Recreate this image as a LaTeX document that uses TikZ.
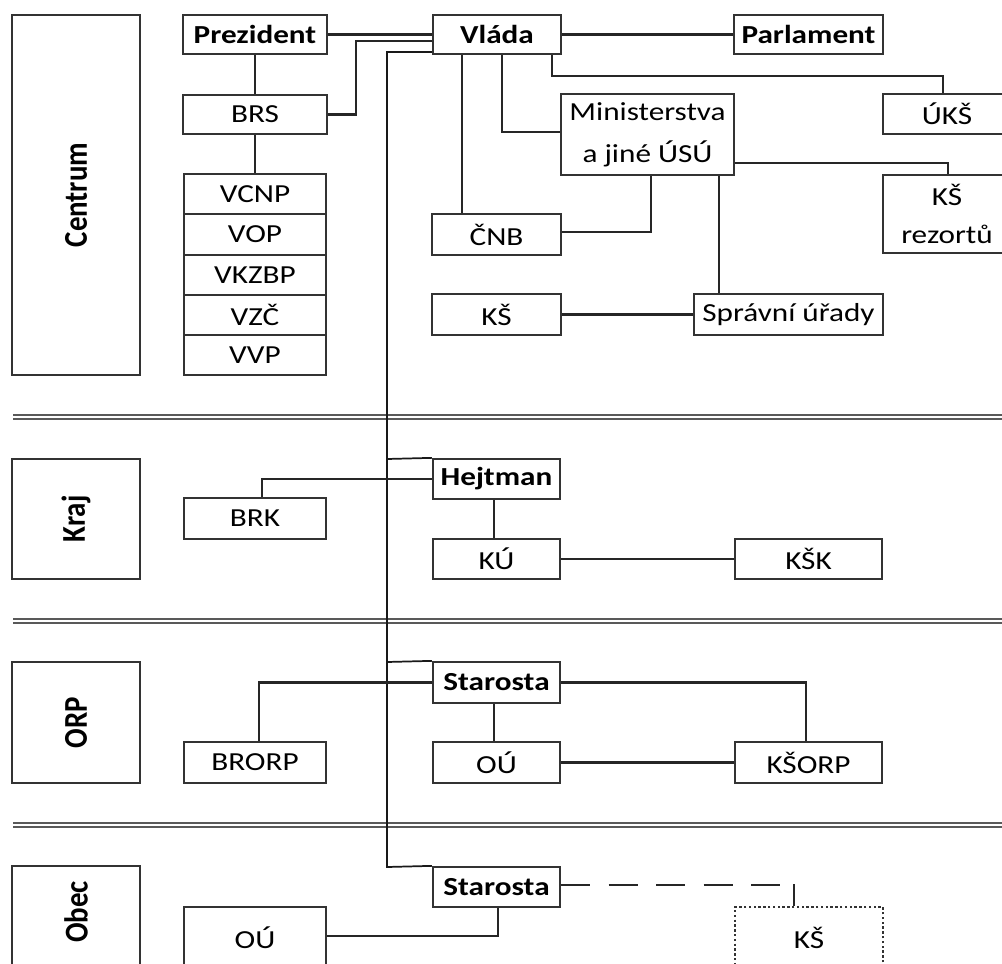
\documentclass[tikz,border=0pt]{standalone}
\usepackage{fontspec}
\setmainfont{Carlito}[FakeStretch=1.2]
\newfontfamily\labfont{Carlito}
\tikzset{
  box/.style={draw=black!80, line width=1.7pt, inner sep=0pt, align=center,
    font=\fontsize{19.5}{29}\selectfont},
  bbox/.style={box, font=\fontsize{19.5}{29}\selectfont\bfseries},
  dbox/.style={box, dash pattern=on 1.8pt off 1.8pt, line width=1.6pt},
  lbox/.style={draw=black!80, line width=1.7pt, inner sep=0pt},
  labtext/.style={rotate=90, inner sep=0pt, font=\labfont\fontsize{21.7}{26}\selectfont\bfseries},
  conn/.style={draw=black!85, line width=1.6pt},
  spine/.style={draw=black!90, line width=1.3pt},
  sep/.style={draw=black!65, line width=1.5pt},
}
\newcommand\mybox[7][box]{%
  \pgfmathsetmacro\bw{(#5-#3)*0.75}\pgfmathsetmacro\bh{(#6-#4)*0.75}%
  \node[#1, minimum width=\bw pt, minimum height=\bh pt] (#2) at ({(#3+#5)/2},{(#4+#6)/2}) {#7};}
\begin{document}
\begin{tikzpicture}[x=0.75pt,y=-0.75pt]
\useasboundingbox (0,0) rectangle (1002,963);
\clip (0,0) rectangle (1002,963);
% level separators
\draw[sep] (13,415) -- (1002,415);
\draw[sep] (13,419) -- (1002,419);
\draw[sep] (13,619) -- (1002,619);
\draw[sep] (13,623) -- (1002,623);
\draw[sep] (13,823) -- (1002,823);
\draw[sep] (13,827) -- (1002,827);
% level labels
\mybox[lbox]{centrum}{12}{15}{140}{375}{}
\mybox[lbox]{kraj}{12}{459}{140}{579}{}
\mybox[lbox]{orp}{12}{662}{140}{783}{}
\mybox[lbox]{obec}{12}{866}{140}{990}{}
\node[labtext] (tcentrum) at (centrum) {\scalebox{1}[1.15]{Centrum}};
\node[labtext] (tkraj) at (kraj) {\scalebox{1}[1.15]{Kraj}};
\node[labtext] (torp) at (orp) {\scalebox{1}[1.15]{ORP}};
\node[labtext] (tobec) at (76,912) {\scalebox{1}[1.15]{Obec}};
% Centrum
\mybox[bbox]{prez}{183}{15}{327}{54}{Prezident}
\mybox[bbox]{vlada}{433}{15}{561}{54}{Vláda}
\mybox[bbox]{parl}{734}{15}{883}{54}{Parlament}
\mybox{brs}{183}{95}{327}{134}{BRS}
\mybox{mini}{561}{94}{734}{175}{Ministerstva\\[2.5pt]a jiné ÚSÚ}
\mybox{uks}{883}{94}{1011}{134}{ÚKŠ}
\mybox{ksrez}{883}{175}{1011}{253}{KŠ\\[-1pt]rezortů}
\mybox{v1}{184}{174}{326}{214}{VCNP}
\mybox{v2}{184}{214}{326}{255}{VOP}
\mybox{v3}{184}{255}{326}{295}{VKZBP}
\mybox{v4}{184}{295}{326}{335}{VZČ}
\mybox{v5}{184}{335}{326}{375}{VVP}
\mybox{cnb}{432}{214}{561}{255}{ČNB}
\mybox{ksc}{432}{294}{561}{335}{KŠ}
\mybox{spr}{694}{294}{883}{335}{Správní úřady}
% Kraj
\mybox[bbox]{hejtman}{433}{459}{560}{499}{Hejtman}
\mybox{brk}{184}{498}{326}{539}{BRK}
\mybox{ku}{433}{539}{560}{579}{KÚ}
\mybox{ksk}{735}{539}{882}{579}{KŠK}
% ORP
\mybox[bbox]{star1}{433}{662}{560}{703}{Starosta}
\mybox{brorp}{184}{742}{326}{783}{BRORP}
\mybox{ou1}{433}{742}{560}{783}{OÚ}
\mybox{ksorp}{735}{742}{882}{783}{KŠORP}
% Obec
\mybox[bbox]{star2}{433}{867}{560}{907}{Starosta}
\mybox{ou2}{184}{907}{326}{968}{OÚ}
\mybox[dbox]{ksd}{735}{907}{883}{968}{KŠ}
% connectors
\draw[conn] (prez) -- (vlada);
\draw[conn] (vlada) -- (parl);
\draw[conn] (prez) -- (brs);
\draw[conn] (brs) -- (v1);
\draw[conn] (brs.east) -| (356,41) -- (vlada.west |- 0,41);
\draw[spine] (vlada.west |- 0,52) -| (387,867) -- (star2.north west);
\draw[spine] (387,459) -- (hejtman.north west);
\draw[spine] (387,662) -- (star1.north west);
\draw[conn] (vlada.south -| 462,0) -- (cnb.north -| 462,0);
\draw[conn] (vlada.south -| 502,0) |- (mini.west |- 0,132);
\draw[conn] (vlada.south -| 552,0) |- (943,76) -- (uks.north -| 943,0);
\draw[conn] (mini.east |- 0,163) -| (ksrez.north -| 948,0);
\draw[conn] (mini.south -| 651,0) |- (cnb.east |- 0,232);
\draw[conn] (mini.south -| 719,0) -- (spr.north -| 719,0);
\draw[conn] (ksc) -- (spr);
\draw[conn] (hejtman.west) -| (brk.north -| 262,0);
\draw[conn] (hejtman.south -| 494,0) -- (ku.north -| 494,0);
\draw[conn] (ku) -- (ksk);
\draw[conn] (star1.west) -| (brorp.north -| 259,0);
\draw[conn] (star1.east) -| (ksorp.north -| 806,0);
\draw[conn] (star1.south -| 494,0) -- (ou1.north -| 494,0);
\draw[conn] (ou1) -- (ksorp);
\draw[conn] (star2.south -| 498,0) |- (ou2.east |- 0,936);
\coordinate (dend) at (781,885);
\coordinate (kstop) at (794,884);
\draw[conn, dash pattern=on 22pt off 13.6pt] (star2.east |- 0,885) -- (dend);
\draw[conn] (kstop) -- (ksd.north -| kstop);
\end{tikzpicture}
\end{document}
